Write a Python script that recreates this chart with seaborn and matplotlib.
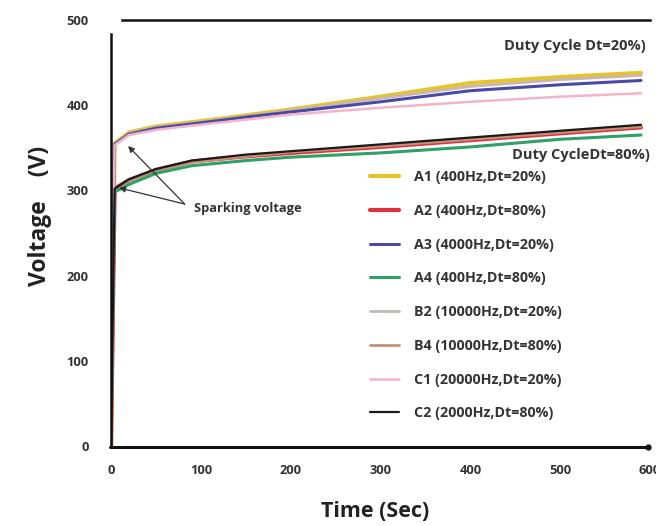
import pandas as pd
import numpy as np
import matplotlib
matplotlib.use("Agg")
import matplotlib.pyplot as plt
from matplotlib.lines import Line2D
import seaborn as sns

# time (s) and voltage (V)
time_s = [0, 4, 20, 50, 90, 150, 200, 300, 400, 500, 590]

A1 = [0, 355, 368, 375, 380, 388, 395, 410, 426, 433, 438]
A2 = [0, 302, 312, 324, 334, 340, 344, 351, 359, 367, 374]
A3 = [0, 354, 366, 373, 378, 386, 392, 404, 417, 424, 429]
A4 = [0, 298, 307, 320, 329, 335, 339, 344, 351, 360, 365]
B2 = [0, 354, 367, 374, 379, 387, 394, 408, 422, 430, 435]
B4 = [0, 301, 311, 323, 333, 340, 345, 352, 360, 368, 375]
C1 = [0, 353, 365, 371, 376, 383, 389, 397, 404, 410, 414]
C2 = [0, 302, 313, 325, 335, 342, 346, 354, 362, 370, 377]

labels = ["A1 (400Hz,Dt=20%)", "A2 (400Hz,Dt=80%)", "A3 (4000Hz,Dt=20%)",
          "A4 (400Hz,Dt=80%)", "B2 (10000Hz,Dt=20%)", "B4 (10000Hz,Dt=80%)",
          "C1 (20000Hz,Dt=20%)", "C2 (2000Hz,Dt=80%)"]
series = [A1, A2, A3, A4, B2, B4, C1, C2]
colors = ["#e6c42a", "#e0303e", "#4a4aa6", "#2fa066",
          "#c8b6b6", "#c49276", "#f2b4c6", "#1a1a1a"]
widths = [3.0, 3.0, 2.2, 2.2, 2.0, 2.0, 1.8, 1.6]

x_ticks = [0, 100, 200, 300, 400, 500, 600]
y_ticks = [0, 100, 200, 300, 400, 500]

rows = []
for lab, vals in zip(labels, series):
    for t, v in zip(time_s, vals):
        rows.append({"time": t, "voltage": v, "sample": lab})
df = pd.DataFrame(rows)

sns.set_theme(style="white")
plt.rcParams['font.family'] = ['Open Sans', 'DejaVu Sans']

fig = plt.figure(figsize=(6.56, 5.26), dpi=100)
ax = fig.add_axes([111/656, 1 - 446/526, (650 - 111)/656, (446 - 20)/526])

# yellow/red first so the thinner lines sit on top
order = [0, 1, 4, 5, 3, 2, 6, 7]
for i in order:
    sns.lineplot(data=df[df["sample"] == labels[i]], x="time", y="voltage",
                 color=colors[i], linewidth=widths[i], label=labels[i],
                 ax=ax, legend=False)

ax.set_xlim(0, 600)
ax.set_ylim(0, 500)
ax.set_xticks(x_ticks)
ax.set_yticks(y_ticks)
ax.tick_params(axis="both", length=0, labelsize=9.3, labelcolor="#333333")
ax.tick_params(axis="x", pad=13)
ax.tick_params(axis="y", pad=16)
for lbl in ax.get_xticklabels() + ax.get_yticklabels():
    lbl.set_fontweight("bold")

for s in ["left", "top"]:
    ax.spines[s].set_color("#111111")
    ax.spines[s].set_linewidth(1.8)
ax.spines["right"].set_visible(False)
ax.spines["bottom"].set_visible(False)
ax.spines["top"].set_bounds(12, 600)
ax.spines["left"].set_bounds(0, 484)

# bottom axis line in figure coordinates, with the small end dot
y_base = 1 - 446.5/526
fig.add_artist(Line2D([110/656, 648/656], [y_base, y_base], color="#111111",
                      lw=2.2, zorder=10))
fig.add_artist(Line2D([648/656], [y_base], marker="o", ms=3.5,
                      color="#111111", zorder=10))

ax.set_xlabel("Time (Sec)", fontsize=15.5, fontweight="bold", color="#222222")
ax.set_ylabel("Voltage    (V)", fontsize=16.5, fontweight="bold", color="#222222")
ax.xaxis.set_label_coords(0.49, -0.128)
ax.yaxis.set_label_coords(-0.11, 0.54)

handles = {l.get_label(): l for l in ax.lines}
leg = ax.legend([handles[l] for l in labels], labels, loc="upper left",
                bbox_to_anchor=(363/656, 1 - 163/526), bbox_transform=fig.transFigure,
                frameon=False, fontsize=10.3, handlelength=2.0, handletextpad=1.1,
                labelspacing=1.38, borderpad=0)
for t in leg.get_texts():
    t.set_fontweight("bold")
    t.set_color("#333333")

ax.text(595, 469, "Duty Cycle Dt=20%)", ha="right", va="center",
        fontsize=10.5, fontweight="bold", color="#333333")
ax.text(600, 341, "Duty CycleDt=80%)", ha="right", va="center",
        fontsize=10.5, fontweight="bold", color="#333333")

ax.text(92, 279, "Sparking voltage", ha="left", va="center",
        fontsize=9.3, fontweight="bold", color="#333333")
for tip in [(19, 352), (9, 303)]:
    ax.annotate("", xy=tip, xytext=(82, 284),
                arrowprops=dict(arrowstyle="-|>", color="#333333", lw=0.9,
                                mutation_scale=9, shrinkA=0, shrinkB=0))

fig.savefig("out.png", dpi=100)
